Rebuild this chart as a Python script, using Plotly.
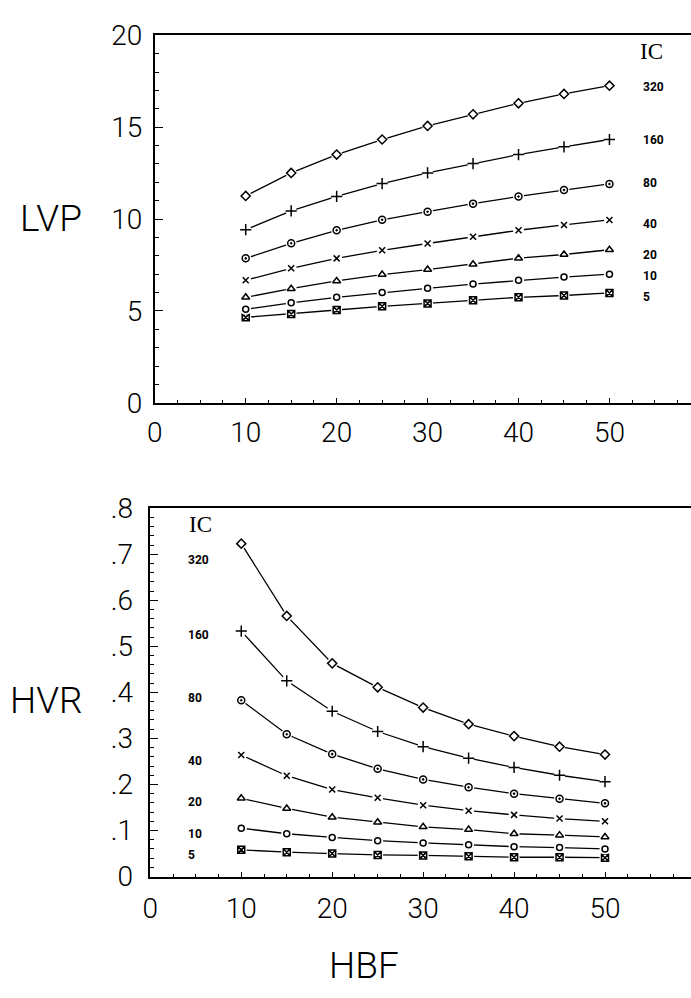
import plotly.graph_objects as go

# ---------------- data ----------------
HBF = [10, 15, 20, 25, 30, 35, 40, 45, 50]
IC_LABELS = ["320", "160", "80", "40", "20", "10", "5"]

LVP_320 = [11.26, 12.51, 13.51, 14.33, 15.07, 15.70, 16.30, 16.81, 17.26]
LVP_160 = [9.42, 10.44, 11.23, 11.93, 12.51, 13.02, 13.51, 13.93, 14.33]
LVP_80 = [7.86, 8.68, 9.39, 9.96, 10.40, 10.84, 11.23, 11.58, 11.91]
LVP_40 = [6.67, 7.32, 7.86, 8.30, 8.67, 9.04, 9.39, 9.68, 9.95]
LVP_20 = [5.74, 6.21, 6.63, 6.98, 7.25, 7.54, 7.87, 8.07, 8.33]
LVP_10 = [5.09, 5.44, 5.74, 6.00, 6.23, 6.46, 6.67, 6.84, 7.00]
LVP_5 = [4.65, 4.83, 5.05, 5.25, 5.41, 5.58, 5.74, 5.84, 5.98]

HVR_320 = [0.723, 0.566, 0.463, 0.411, 0.367, 0.331, 0.305, 0.282, 0.265]
HVR_160 = [0.533, 0.425, 0.359, 0.315, 0.282, 0.257, 0.237, 0.220, 0.206]
HVR_80 = [0.383, 0.309, 0.266, 0.234, 0.211, 0.194, 0.180, 0.169, 0.159]
HVR_40 = [0.264, 0.219, 0.189, 0.171, 0.155, 0.143, 0.134, 0.126, 0.120]
HVR_20 = [0.170, 0.148, 0.129, 0.118, 0.108, 0.102, 0.093, 0.090, 0.086]
HVR_10 = [0.105, 0.093, 0.085, 0.078, 0.073, 0.069, 0.065, 0.063, 0.060]
HVR_5 = [0.058, 0.053, 0.050, 0.047, 0.046, 0.044, 0.042, 0.042, 0.041]

LVP_SERIES = [LVP_320, LVP_160, LVP_80, LVP_40, LVP_20, LVP_10, LVP_5]
HVR_SERIES = [HVR_320, HVR_160, HVR_80, HVR_40, HVR_20, HVR_10, HVR_5]

LVP_TICKS = [0, 5, 10, 15, 20]
HVR_TICKS = [0, 0.1, 0.2, 0.3, 0.4, 0.5, 0.6, 0.7, 0.8]
HVR_TICKTEXT = ["0", ".1", ".2", ".3", ".4", ".5", ".6", ".7", ".8"]
HBF_TICKS = [0, 10, 20, 30, 40, 50]

# ---------------- style ----------------
W, H = 691, 998
SYMBOLS = ["diamond-open", "cross-thin-open", "circle-open-dot", "x-thin-open",
           "triangle-up-open", "circle-open", "square-x-open"]
SYM_SIZE = [7, 8, 7, 6, 7, 6, 7]
NUM_FONT = "Roboto, DejaVu Sans, sans-serif"
LAB_FONT = "Roboto, DejaVu Sans Condensed, sans-serif"
IC_FONT = "Liberation Serif, DejaVu Serif, serif"

TOP_LABEL_X = 53.5
TOP_LABEL_Y = [17.19, 14.3, 11.98, 9.74, 8.07, 6.88, 5.74]
BOT_LABEL_X = 3.9
BOT_LABEL_Y = [0.688, 0.525, 0.388, 0.252, 0.161, 0.092, 0.046]


def px_x(p):
    return p / W


def px_y(p):
    return 1 - p / H


fig = go.Figure()


def add_series(xref, yref, ys, k):
    fig.add_trace(go.Scatter(x=HBF, y=ys, mode="lines", xaxis=xref, yaxis=yref,
                             line=dict(color="black", width=1.3), showlegend=False,
                             hoverinfo="skip"))
    fig.add_trace(go.Scatter(x=HBF, y=ys, mode="markers", xaxis=xref, yaxis=yref,
                             marker=dict(symbol="circle", size=11, color="white",
                                         line=dict(width=0)),
                             showlegend=False, hoverinfo="skip"))
    fig.add_trace(go.Scatter(x=HBF, y=ys, mode="markers", xaxis=xref, yaxis=yref,
                             marker=dict(symbol=SYMBOLS[k], size=SYM_SIZE[k], color="black",
                                         line=dict(color="black", width=1.5)),
                             showlegend=False))


for k in range(len(IC_LABELS) - 1, -1, -1):
    add_series("x", "y", LVP_SERIES[k], k)
    add_series("x2", "y2", HVR_SERIES[k], k)

top_x0 = 148.5
bot_x0 = 144.0
scale = 9.2  # px per HBF unit

tick_font = dict(family=NUM_FONT, size=28, color="black", weight=300)
axis_common = dict(showgrid=False, zeroline=False, showline=True, linecolor="black",
                   linewidth=1.6, ticks="inside", tickcolor="black", tickfont=tick_font)

fig.update_layout(
    width=W, height=H, margin=dict(l=0, r=0, t=0, b=0),
    paper_bgcolor="white", plot_bgcolor="white", showlegend=False,
    xaxis=dict(domain=[px_x(top_x0), 1], range=[0, (W - top_x0) / scale], anchor="y",
               tickvals=HBF_TICKS, ticklen=5, tickwidth=1.2, mirror=True,
               ticklabelstandoff=4,
               minor=dict(dtick=2.5, tick0=0, ticks="inside", ticklen=3, tickcolor="black"),
               **axis_common),
    yaxis=dict(domain=[px_y(400), px_y(20)], range=[0, 20], anchor="x",
               tickvals=LVP_TICKS, ticklen=8, tickwidth=1.2, ticklabelstandoff=5,
               minor=dict(dtick=1, tick0=0, ticks="inside", ticklen=4, tickcolor="black"),
               **axis_common),
    xaxis2=dict(domain=[px_x(bot_x0), 1], range=[0, (W - bot_x0) / scale], anchor="y2",
                tickvals=HBF_TICKS, ticklen=5, tickwidth=1.2, mirror=True,
                ticklabelstandoff=6,
                minor=dict(dtick=2.5, tick0=0, ticks="inside", ticklen=3, tickcolor="black"),
                **axis_common),
    yaxis2=dict(domain=[px_y(890), px_y(509)], range=[0, 0.8], anchor="x2",
                tickvals=HVR_TICKS, ticktext=HVR_TICKTEXT, ticklen=8, tickwidth=1.2,
                ticklabelstandoff=10,
                minor=dict(dtick=0.02, tick0=0, ticks="inside", ticklen=4, tickcolor="black"),
                **axis_common),
)

ann = []
lab_font = dict(family=LAB_FONT, size=12, color="black", weight="bold")
for k, lab in enumerate(IC_LABELS):
    ann.append(dict(x=TOP_LABEL_X, y=TOP_LABEL_Y[k], xref="x", yref="y", text=lab,
                    showarrow=False, xanchor="left", yanchor="middle", font=lab_font))
    ann.append(dict(x=BOT_LABEL_X, y=BOT_LABEL_Y[k], xref="x2", yref="y2", text=lab,
                    showarrow=False, xanchor="left", yanchor="middle", font=lab_font))
ic_font = dict(family=IC_FONT, size=23, color="black")
ann.append(dict(x=53.1, y=19.1, xref="x", yref="y", text="IC", showarrow=False,
                xanchor="left", yanchor="middle", font=ic_font))
ann.append(dict(x=4.0, y=0.765, xref="x2", yref="y2", text="IC", showarrow=False,
                xanchor="left", yanchor="middle", font=ic_font))

title_font = dict(family=NUM_FONT, size=37, color="black", weight=300)
ann.append(dict(x=px_x(43), y=px_y(209), xref="paper", yref="paper", text="LVP",
                showarrow=False, xanchor="center", yanchor="middle", font=title_font))
ann.append(dict(x=px_x(39), y=px_y(708), xref="paper", yref="paper", text="HVR",
                showarrow=False, xanchor="center", yanchor="middle", font=title_font))
ann.append(dict(x=px_x(360), y=px_y(982), xref="paper", yref="paper", text="HBF",
                showarrow=False, xanchor="center", yanchor="middle", font=title_font))
fig.update_layout(annotations=ann)

fig.write_html("out.html")
